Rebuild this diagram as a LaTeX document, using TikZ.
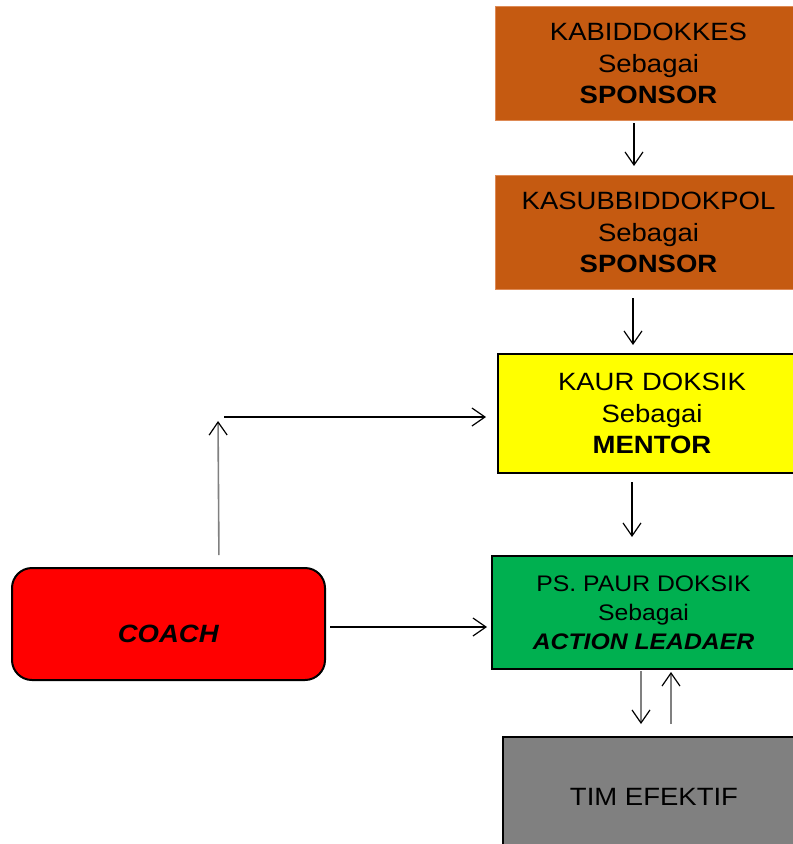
\documentclass[tikz,border=0pt]{standalone}
\usepackage{fontspec}
\setmainfont{Liberation Sans}[FakeStretch=1.1]
\usetikzlibrary{arrows.meta}
\definecolor{boxorange}{HTML}{C55A11}
\definecolor{boxorangeedge}{HTML}{DE8A55}
\definecolor{boxyellow}{HTML}{FFFF00}
\definecolor{boxgreen}{HTML}{00B050}
\definecolor{boxred}{HTML}{FF0000}
\definecolor{boxgray}{HTML}{808080}
\tikzset{
  box/.style={rectangle, anchor=north west, inner sep=0pt, align=center,
    font=\fontsize{25}{31.5}\selectfont},
  orangebox/.style={box, fill=boxorange, draw=boxorangeedge, line width=1pt,
    minimum width=306pt, minimum height=114pt},
  arr/.style={line width=1.3pt, -{Straight Barb[length=13pt,width=18pt,line width=1.2pt,color=black]}},
  grayarr/.style={arr, draw=black!50, line width=1.6pt},
}
\begin{document}
\begin{tikzpicture}[x=1pt,y=-1pt]
\useasboundingbox (0,0) rectangle (793,844);
\clip (0,0) rectangle (793,844);

\node[orangebox] (b1) at (495,6) {KABIDDOKKES\\Sebagai\\\textbf{SPONSOR}};
\node[orangebox] (b2) at (495,175) {KASUBBIDDOKPOL\\Sebagai\\\textbf{SPONSOR}};
\node[box, fill=boxyellow, draw=black, line width=2pt, minimum width=308pt, minimum height=119pt]
  (b3) at (497,353) {KAUR DOKSIK\\Sebagai\\\textbf{MENTOR}};
\node[box, fill=boxgreen, draw=black, line width=2pt, minimum width=303pt, minimum height=113pt,
  font=\fontsize{22.5}{29}\selectfont]
  (b4) at (491,555) {PS. PAUR DOKSIK\\Sebagai\\\textbf{\itshape ACTION LEADAER}};
\node[box, fill=boxgray, draw=black, line width=2pt, minimum width=302pt, minimum height=120pt]
  (b5) at (502,736) {TIM EFEKTIF};
\node[box, fill=boxred, draw=black, line width=2pt, rounded corners=20pt,
  minimum width=313pt, minimum height=112pt, text height=36pt, text depth=0pt]
  (coach) at (11,567) {\textbf{\itshape COACH}};

\coordinate (turn) at (218,417);

\draw[arr, shorten <=2pt, shorten >=9pt] ([xshift=139pt]b1.south west) -- ([xshift=139pt]b2.north west);
\draw[arr, shorten <=8pt, shorten >=8pt] ([xshift=138pt]b2.south west) -- ([xshift=136pt]b3.north west);
\draw[arr, shorten <=8pt, shorten >=18pt] ([xshift=135pt]b3.south west) -- ([xshift=141pt]b4.north west);
\draw[grayarr, shorten <=1pt, shorten >=12pt] ([xshift=150pt]b4.south west) -- ([xshift=139pt]b5.north west);
\draw[grayarr, shorten <=12pt, shorten >=2pt] ([xshift=169pt]b5.north west) -- ([xshift=180pt]b4.south west);
\draw[arr, shorten <=4pt, shorten >=4pt] ([yshift=-3pt]coach.east) -- ([yshift=-3pt]coach.east -| b4.west);
\draw[grayarr, shorten <=12pt, shorten >=4pt] ([xshift=50.5pt]coach.north) -- (turn);
\draw[arr, shorten <=6pt, shorten >=11pt] (turn) -- (turn -| b3.west);
\end{tikzpicture}
\end{document}
